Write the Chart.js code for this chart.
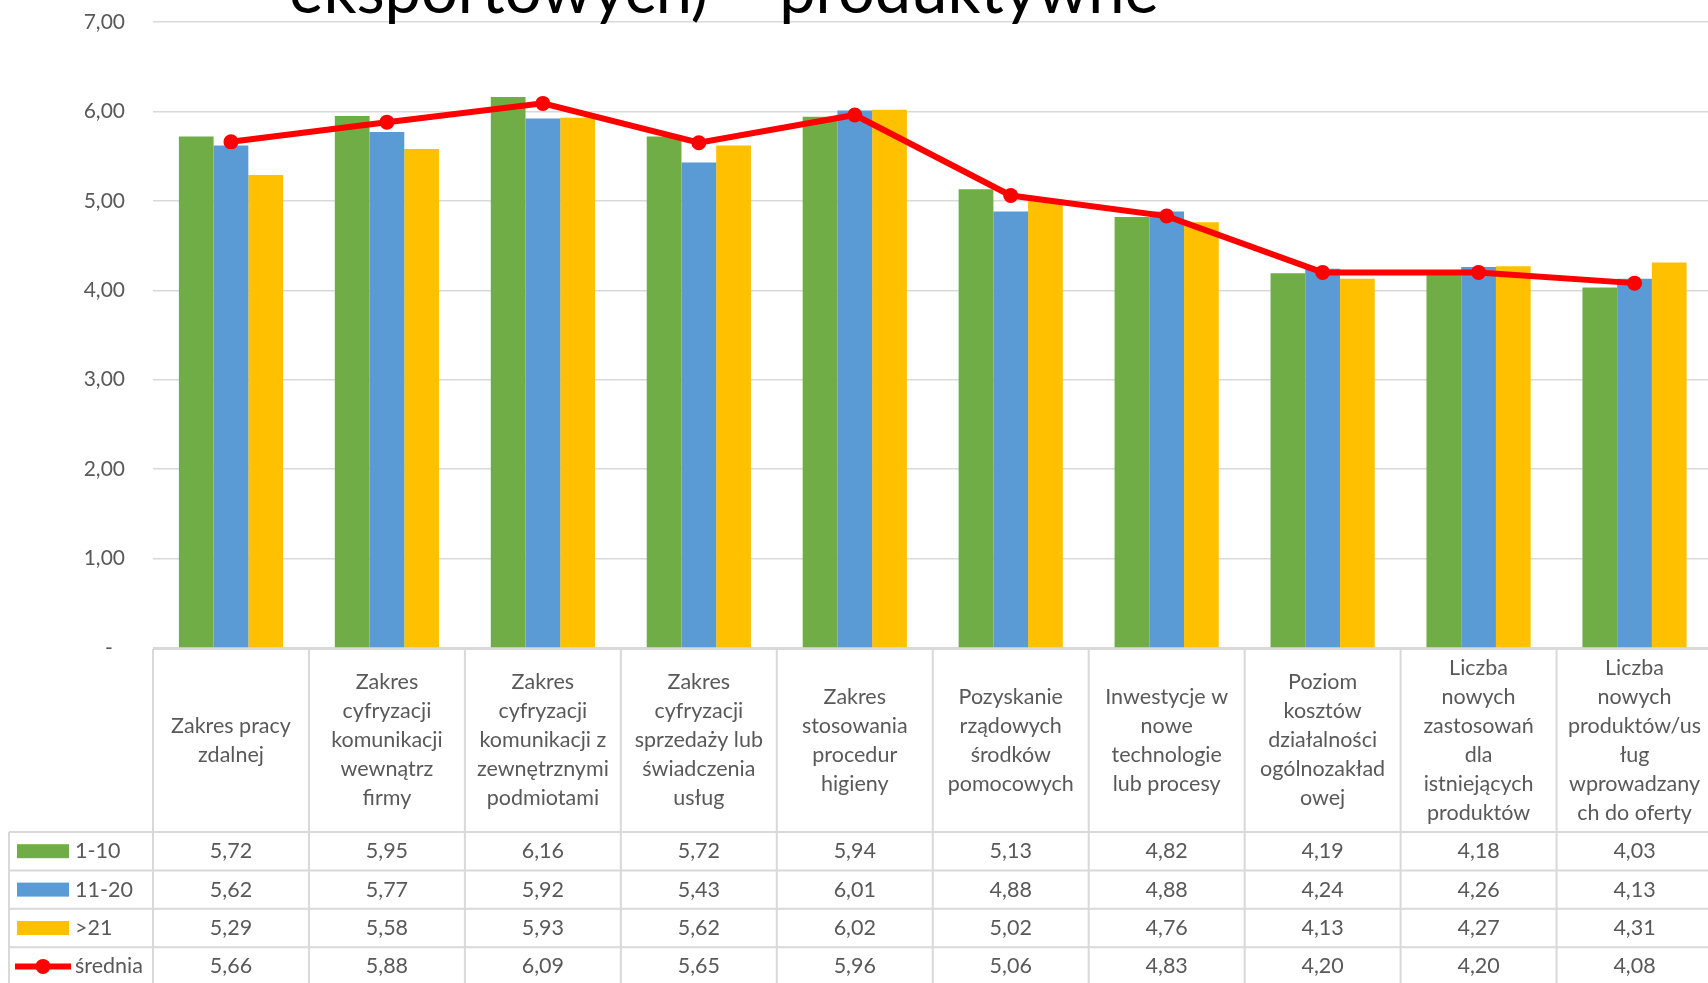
<!DOCTYPE html>
<html lang="pl">
<head>
<meta charset="utf-8">
<title>Wykres</title>
<script src="https://cdn.jsdelivr.net/npm/chart.js@4.4.1/dist/chart.umd.min.js"></script>
<style>
  html, body { margin: 0; padding: 0; background: #fff; overflow: hidden; }
  #wrap { width: 1720px; height: 983px; }
</style>
</head>
<body>
<div id="wrap"><canvas id="wykres" width="1720" height="983"></canvas></div>
<script>
// kategorie - z podziałem na linie tak jak w tabeli pod wykresem
const kategorie = [
  ['Zakres pracy', 'zdalnej'],
  ['Zakres', 'cyfryzacji', 'komunikacji', 'wewnątrz', 'firmy'],
  ['Zakres', 'cyfryzacji', 'komunikacji z', 'zewnętrznymi', 'podmiotami'],
  ['Zakres', 'cyfryzacji', 'sprzedaży lub', 'świadczenia', 'usług'],
  ['Zakres', 'stosowania', 'procedur', 'higieny'],
  ['Pozyskanie', 'rządowych', 'środków', 'pomocowych'],
  ['Inwestycje w', 'nowe', 'technologie', 'lub procesy'],
  ['Poziom', 'kosztów', 'działalności', 'ogólnozakład', 'owej'],
  ['Liczba', 'nowych', 'zastosowań', 'dla', 'istniejących', 'produktów'],
  ['Liczba', 'nowych', 'produktów/us', 'ług', 'wprowadzany', 'ch do oferty']
];

// wartości dla grup firm
const firmy1_10  = [5.72, 5.95, 6.16, 5.72, 5.94, 5.13, 4.82, 4.19, 4.18, 4.03];
const firmy11_20 = [5.62, 5.77, 5.92, 5.43, 6.01, 4.88, 4.88, 4.24, 4.26, 4.13];
const firmyPow21 = [5.29, 5.58, 5.93, 5.62, 6.02, 5.02, 4.76, 4.13, 4.27, 4.31];
const srednia    = [5.66, 5.88, 6.09, 5.65, 5.96, 5.06, 4.83, 4.20, 4.20, 4.08];

const nazwySerii = ['1-10', '11-20', '>21', 'średnia'];
const osY = { min: 0, max: 7, krok: 1 };
const tytul = 'eksportowych) – produktywne';

const FONT = 'Lato';
const SZARY = '#595959';
const LINIE = '#d9d9d9';

function liczba(v) {
  return v.toFixed(2).replace('.', ',');
}

// tytuł slajdu (ucięty u góry)
const tytulPlugin = {
  id: 'tytul',
  afterDraw(chart) {
    const ctx = chart.ctx;
    ctx.save();
    ctx.font = '65px ' + FONT;
    ctx.fillStyle = '#000';
    ctx.textAlign = 'center';
    ctx.textBaseline = 'alphabetic';
    ctx.fillText(tytul, 724, 13);
    ctx.restore();
  }
};

// tabela danych pod wykresem (jak w Excelu)
const tabelaPlugin = {
  id: 'tabela',
  afterDraw(chart) {
    const ctx = chart.ctx;
    const area = chart.chartArea;
    const sx = chart.scales.x;
    const n = chart.data.labels.length;
    const szer = (area.right - area.left) / n;
    const gora = area.bottom + 1;
    const naglowekDol = gora + 183;
    const wiersz = 38.4;
    const dol = naglowekDol + wiersz * 4;
    const lewa = 9;

    ctx.save();
    ctx.strokeStyle = LINIE;
    ctx.lineWidth = 2;
    ctx.beginPath();
    ctx.moveTo(area.left, gora);
    ctx.lineTo(area.right, gora);
    for (let r = 0; r <= 4; r++) {
      const yy = naglowekDol + r * wiersz;
      ctx.moveTo(lewa, yy);
      ctx.lineTo(area.right, yy);
    }
    ctx.moveTo(lewa, naglowekDol);
    ctx.lineTo(lewa, dol);
    for (let i = 0; i <= n; i++) {
      const xx = area.left + i * szer;
      ctx.moveTo(xx, gora);
      ctx.lineTo(xx, dol);
    }
    ctx.stroke();

    // nagłówki kategorii
    ctx.font = '21.5px ' + FONT;
    ctx.fillStyle = SZARY;
    ctx.textAlign = 'center';
    ctx.textBaseline = 'middle';
    const lh = 29;
    const srodekNaglowka = (gora + naglowekDol) / 2;
    chart.data.labels.forEach((linie, i) => {
      const cx = sx.getPixelForValue(i);
      const y0 = srodekNaglowka - (linie.length - 1) * lh / 2;
      linie.forEach((t, k) => ctx.fillText(t, cx, y0 + k * lh));
    });

    // wiersze z wartościami + legenda
    chart.data.datasets.forEach((ds, r) => {
      const cy = naglowekDol + r * wiersz + wiersz / 2;
      ds.data.forEach((v, i) => {
        ctx.textAlign = 'center';
        ctx.fillText(liczba(v), sx.getPixelForValue(i), cy);
      });
      // klucz legendy
      if (ds.type === 'line') {
        ctx.strokeStyle = ds.borderColor;
        ctx.lineWidth = 6;
        ctx.beginPath();
        ctx.moveTo(15, cy);
        ctx.lineTo(71, cy);
        ctx.stroke();
        ctx.fillStyle = ds.borderColor;
        ctx.beginPath();
        ctx.arc(43, cy, 7.5, 0, Math.PI * 2);
        ctx.fill();
      } else {
        ctx.fillStyle = ds.backgroundColor;
        ctx.fillRect(17, cy - 7, 52, 14);
      }
      ctx.fillStyle = SZARY;
      ctx.textAlign = 'left';
      ctx.fillText(ds.label, 75, cy);
    });
    ctx.restore();
  }
};

new Chart(document.getElementById('wykres'), {
  type: 'bar',
  data: {
    labels: kategorie,
    datasets: [
      { label: nazwySerii[0], data: firmy1_10, backgroundColor: '#70ad47', order: 1 },
      { label: nazwySerii[1], data: firmy11_20, backgroundColor: '#5b9bd5', order: 1 },
      { label: nazwySerii[2], data: firmyPow21, backgroundColor: '#ffc000', order: 1 },
      {
        type: 'line', label: nazwySerii[3], data: srednia, order: 0,
        borderColor: '#ff0000', backgroundColor: '#ff0000', borderWidth: 6,
        pointRadius: 7.5, pointBackgroundColor: '#ff0000', pointBorderWidth: 0,
        tension: 0
      }
    ]
  },
  options: {
    responsive: false,
    animation: false,
    devicePixelRatio: 1,
    layout: { padding: { top: 22, bottom: 335, left: 0, right: 0 } },
    datasets: {
      bar: { barPercentage: 1, categoryPercentage: 0.668 }
    },
    scales: {
      x: { display: false },
      y: {
        min: osY.min,
        max: osY.max,
        afterFit: s => {
          s.width = 153;
          // odstęp etykiet nie ma przesuwać obszaru wykresu w dół
          s.paddingTop = 12;
          s.paddingBottom = 12;
        },
        border: { display: false },
        grid: { color: LINIE, lineWidth: 1.5, drawTicks: false },
        ticks: {
          stepSize: osY.krok,
          padding: 28,
          color: SZARY,
          font: { family: FONT, size: 21 },
          callback: v => v === 0 ? '-\u2007' : liczba(v)
        }
      }
    },
    plugins: {
      legend: { display: false },
      tooltip: { enabled: false }
    }
  },
  plugins: [tytulPlugin, tabelaPlugin]
});
</script>
</body>
</html>
